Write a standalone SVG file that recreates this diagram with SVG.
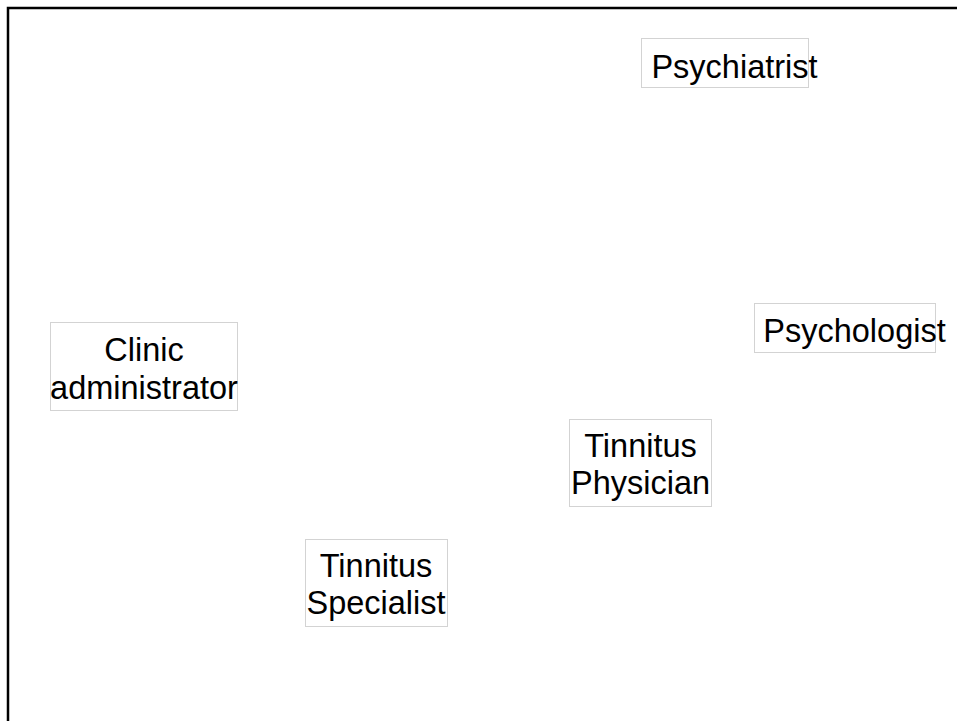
<svg xmlns="http://www.w3.org/2000/svg" width="957" height="721" viewBox="0 0 957 721">
  <style>
    .frame { fill: none; stroke: #000; stroke-width: 2.5; }
    .box { fill: #fff; stroke: #d3d3d3; stroke-width: 1; }
    .label { font-family: "Liberation Sans", Arial, sans-serif; font-size: 32.5px; fill: #000; text-anchor: middle; }
  </style>
  <rect width="957" height="721" fill="#fff"/>
  <!-- outer frame, open to the right and bottom -->
  <rect class="frame" x="8" y="8" width="980" height="740"/>

  <g id="connectors"></g>

  <g id="node-psychiatrist">
    <rect class="box" x="641.5" y="38.5" width="167" height="49"/>
    <text class="label" x="734.5" y="77.5">Psychiatrist</text>
  </g>

  <g id="node-psychologist">
    <rect class="box" x="754.5" y="303.5" width="181" height="49"/>
    <text class="label" x="854.5" y="342">Psychologist</text>
  </g>

  <g id="node-clinic-administrator">
    <rect class="box" x="50.5" y="322.5" width="187" height="88"/>
    <text class="label" x="144" y="361">Clinic</text>
    <text class="label" x="144" y="398.5">administrator</text>
  </g>

  <g id="node-tinnitus-physician">
    <rect class="box" x="569.5" y="419.5" width="142" height="87"/>
    <text class="label" x="640.5" y="457">Tinnitus</text>
    <text class="label" x="640.5" y="494">Physician</text>
  </g>

  <g id="node-tinnitus-specialist">
    <rect class="box" x="305.5" y="539.5" width="142" height="87"/>
    <text class="label" x="376" y="577">Tinnitus</text>
    <text class="label" x="376" y="614">Specialist</text>
  </g>
</svg>
